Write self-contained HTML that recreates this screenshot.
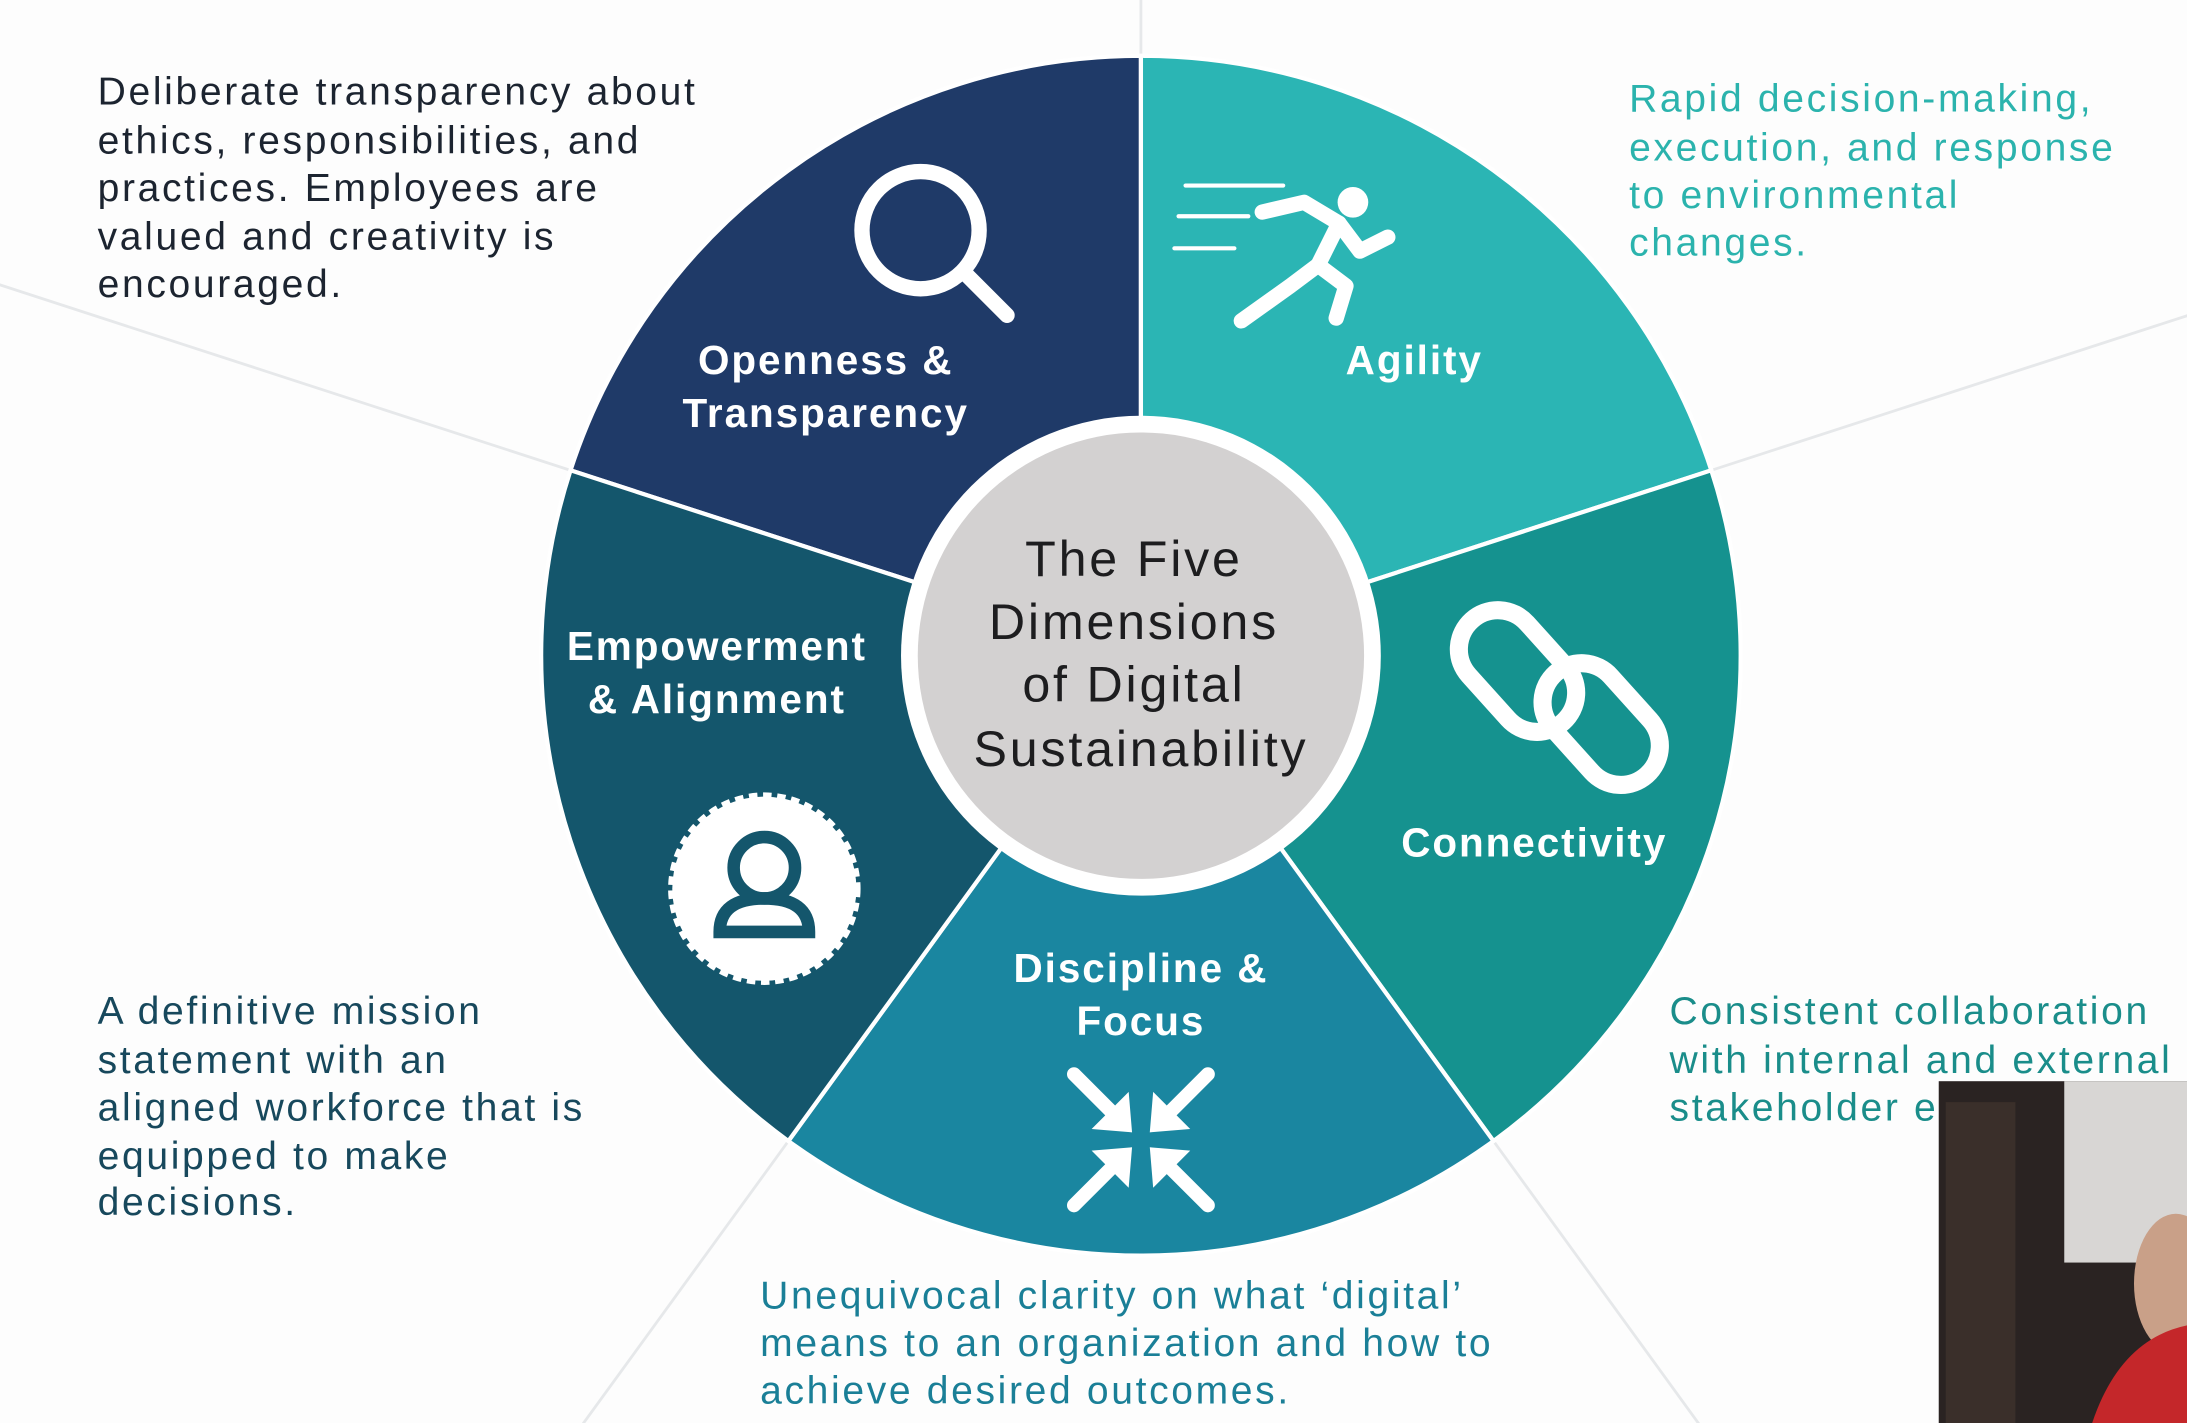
<!DOCTYPE html>
<html><head><meta charset="utf-8"><style>
html,body{margin:0;padding:0;background:#fff;overflow:hidden;width:2187px;height:1423px;}
svg{display:block;}
text{font-family:"Liberation Sans",sans-serif;}
.d{font-size:28px;letter-spacing:1.9px;}
</style></head><body>
<svg width="2187" height="1423" viewBox="0 0 1568 1020" preserveAspectRatio="none" xmlns="http://www.w3.org/2000/svg">
<rect width="1568" height="1020" fill="#fdfdfd"/>
<g id="bglines" stroke="#e6e8ea" stroke-width="2"></g>
<g id="segs"></g>
<circle cx="818" cy="470" r="172" fill="#ffffff"/>
<circle cx="818" cy="470" r="160" fill="#d3d1d1"/>
<g font-size="36" letter-spacing="2" fill="#1d1d1f" text-anchor="middle">
<text x="813" y="413">The Five</text><text x="813" y="458">Dimensions</text><text x="813" y="503">of Digital</text><text x="818" y="549">Sustainability</text></g>
<g id="labels" font-size="29" font-weight="bold" letter-spacing="1.4" fill="#fff" text-anchor="middle"></g>
<g stroke="#fff" fill="none" stroke-width="11" stroke-linecap="round">
<circle cx="660" cy="165" r="42"/><line x1="692" y1="196" x2="722" y2="226"/></g>
<g stroke="#fff" fill="none" stroke-width="11" stroke-linecap="round" stroke-linejoin="round">
<circle cx="970" cy="145" r="11" fill="#fff" stroke="none"/>
<polyline points="905,152 935,145 960,160 945,190 965,205 958,228"/>
<polyline points="960,160 975,180 995,170"/><polyline points="945,190 925,205 890,230"/>
<g stroke-width="3"><line x1="850" y1="133" x2="920" y2="133"/><line x1="845" y1="155" x2="895" y2="155"/><line x1="842" y1="178" x2="885" y2="178"/></g></g>
<g stroke="#fff" fill="none" stroke-width="13">
<rect x="1060" y="432" width="56" height="98" rx="28" transform="rotate(-42 1088 481)"/>
<rect x="1120" y="470" width="56" height="98" rx="28" transform="rotate(-42 1148 519)"/></g>
<g>
<circle cx="548" cy="637" r="66" fill="#fff" stroke="#fff" stroke-width="6" stroke-dasharray="6 4"/>
<circle cx="548" cy="622" r="22" fill="none" stroke="#14566c" stroke-width="9"/>
<path d="M516 668 q0-24 32-24 q32 0 32 24 z" fill="none" stroke="#14566c" stroke-width="9"/></g>
<g stroke="#fff" stroke-width="10" stroke-linecap="round" fill="#fff">
<line x1="770" y1="770" x2="800" y2="800"/><line x1="866" y1="770" x2="836" y2="800"/><line x1="770" y1="864" x2="800" y2="834"/><line x1="866" y1="864" x2="836" y2="834"/>
<polygon points="810,810 786,808 808,786" stroke-width="3"/><polygon points="826,810 850,808 828,786" stroke-width="3"/><polygon points="810,824 786,826 808,848" stroke-width="3"/><polygon points="826,824 850,826 828,848" stroke-width="3"/></g>
<g class="d" fill="#1c2430">
<text x="70" y="75">Deliberate transparency about</text><text x="70" y="110">ethics, responsibilities, and</text><text x="70" y="144">practices. Employees are</text><text x="70" y="179">valued and creativity is</text><text x="70" y="213">encouraged.</text></g>
<g class="d" fill="#2bb3ad">
<text x="1168" y="80">Rapid decision-making,</text><text x="1168" y="115">execution, and response</text><text x="1168" y="149">to environmental</text><text x="1168" y="183">changes.</text></g>
<g class="d" fill="#1a8d8a">
<text x="1197" y="734">Consistent collaboration</text><text x="1197" y="769">with internal and external</text><text x="1197" y="803">stakeholder ecosystems.</text></g>
<g class="d" fill="#17485c">
<text x="70" y="734">A definitive mission</text><text x="70" y="769">statement with an</text><text x="70" y="803">aligned workforce that is</text><text x="70" y="838">equipped to make</text><text x="70" y="871">decisions.</text></g>
<g class="d" fill="#1a7f97">
<text x="545" y="938">Unequivocal clarity on what ‘digital’</text><text x="545" y="972">means to an organization and how to</text><text x="545" y="1006">achieve desired outcomes.</text></g>
<g>
<rect x="1390" y="775" width="178" height="245" fill="#2a2322"/>
<rect x="1480" y="775" width="88" height="130" fill="#d8d6d4"/>
<rect x="1395" y="790" width="50" height="230" fill="#3a2f2a"/>
<ellipse cx="1560" cy="920" rx="30" ry="50" fill="#c9a088"/>
<path d="M1500 1020 q20-60 68-70 v70 z" fill="#c4272a"/></g>
</svg>
<script>
const categories=["Openness & Transparency","Agility","Connectivity","Discipline & Focus","Empowerment & Alignment"];
const values=[1,1,1,1,1];
const colors=["#1f3a68","#2bb5b4","#15928f","#1a86a0","#14566c"];
const cx=818,cy=470,R=430,NS="http://www.w3.org/2000/svg";
const total=values.reduce((a,b)=>a+b,0);
const start=-0.2*2*Math.PI;
function pt(a,r){return [cx+r*Math.sin(a),cy-r*Math.cos(a)];}
const segs=document.getElementById('segs'),bg=document.getElementById('bglines'),lab=document.getElementById('labels');
let acc=0;
const labelLines=[["Openness &","Transparency"],["Agility"],["Connectivity"],["Discipline &","Focus"],["Empowerment","& Alignment"]];
const labelPos=[[592,268],[1014,268],[1100,614],[818,704],[514,473]];
values.forEach((v,i)=>{
 const a0=start+acc/total*2*Math.PI; acc+=v; const a1=start+acc/total*2*Math.PI;
 const p0=pt(a0,R),p1=pt(a1,R);
 const p=document.createElementNS(NS,'path');
 p.setAttribute('d',`M${cx},${cy} L${p0[0]},${p0[1]} A${R},${R} 0 ${a1-a0>Math.PI?1:0} 1 ${p1[0]},${p1[1]} Z`);
 p.setAttribute('fill',colors[i]);p.setAttribute('stroke','#fff');p.setAttribute('stroke-width','3');
 
 
 segs.appendChild(p);
 const e=pt(a0,1100),l=document.createElementNS(NS,'line');
 l.setAttribute('x1',cx);l.setAttribute('y1',cy);l.setAttribute('x2',e[0]);l.setAttribute('y2',e[1]);
 
 
 bg.appendChild(l);
 const t=document.createElementNS(NS,'text');
 
 
 labelLines[i].forEach((s,k)=>{const ts=document.createElementNS(NS,'tspan');ts.setAttribute('x',labelPos[i][0]);ts.setAttribute('y',labelPos[i][1]+k*38);ts.textContent=s;t.appendChild(ts);});
 lab.appendChild(t);
});
</script>
</body></html>
